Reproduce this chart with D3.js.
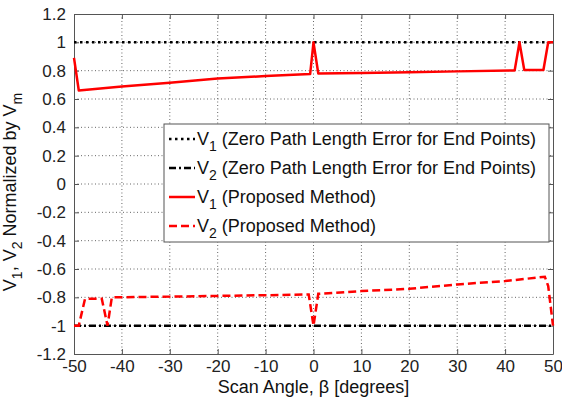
<!DOCTYPE html>
<html>
<head>
<meta charset="utf-8">
<script src="https://cdn.jsdelivr.net/npm/d3@7"></script>
<style>
  body { margin: 0; background: #fff; }
  svg { font-family: "Liberation Sans", Arial, sans-serif; }
</style>
</head>
<body>
<svg id="chart" width="562" height="397"></svg>
<script>
// tick values
var xTicks = [-50, -40, -30, -20, -10, 0, 10, 20, 30, 40, 50];
var yTicks = [-1.2, -1, -0.8, -0.6, -0.4, -0.2, 0, 0.2, 0.4, 0.6, 0.8, 1, 1.2];

// reference lines (zero path length error for end points)
var refAngles = [-50, 50];
var refV1 = [1, 1];
var refV2 = [-1, -1];

// proposed method, V1
var v1Angles = [-50, -49, -40, -30, -20, -10, -0.7, 0, 1, 10, 20, 30, 42, 43, 44, 48, 49, 50];
var v1Values = [0.89, 0.66, 0.688, 0.715, 0.745, 0.762, 0.776, 1, 0.78, 0.784, 0.788, 0.795, 0.802, 1, 0.805, 0.805, 1, 1];

// proposed method, V2
var v2Angles = [-50, -49, -47.7, -44.2, -43, -42.1, -30, -20, -10, -1, 0, 1, 10, 20, 30, 40, 48.3, 49, 50];
var v2Values = [-1, -1, -0.81, -0.81, -1, -0.8, -0.795, -0.79, -0.785, -0.78, -1, -0.775, -0.756, -0.74, -0.709, -0.685, -0.655, -0.72, -1];

var legendItems = [
    { name: "1", label: " (Zero Path Length Error for End Points)", color: "#000", dash: "2.5,3.5" },
    { name: "2", label: " (Zero Path Length Error for End Points)", color: "#000", dash: "7,3,2,3" },
    { name: "1", label: " (Proposed Method)", color: "#ff0000", dash: null },
    { name: "2", label: " (Proposed Method)", color: "#ff0000", dash: "8,4" }
];

var margin = { left: 74, right: 9, top: 14, bottom: 43 };
var width = 562 - margin.left - margin.right;
var height = 397 - margin.top - margin.bottom;

var svg = d3.select("#chart");
var g = svg.append("g").attr("transform", "translate(" + margin.left + "," + margin.top + ")");

var x = d3.scaleLinear().domain([-50, 50]).range([0, width]);
var y = d3.scaleLinear().domain([-1.2, 1.2]).range([height, 0]);

// grid
g.selectAll(".gx").data(xTicks.slice(1, -1)).enter().append("line")
    .attr("x1", function (d) { return x(d); }).attr("x2", function (d) { return x(d); })
    .attr("y1", 0).attr("y2", height)
    .attr("stroke", "#666").attr("stroke-dasharray", "1,2.5");
g.selectAll(".gy").data(yTicks.slice(1, -1)).enter().append("line")
    .attr("y1", function (d) { return y(d); }).attr("y2", function (d) { return y(d); })
    .attr("x1", 0).attr("x2", width)
    .attr("stroke", "#666").attr("stroke-dasharray", "1,2.5");

// axes
var fmt = function (d) { return String(d); };
var xAxis = g.append("g").attr("transform", "translate(0," + height + ")")
    .call(d3.axisBottom(x).tickValues(xTicks).tickFormat(fmt).tickSizeInner(-5).tickSizeOuter(0).tickPadding(6));
var xAxisTop = g.append("g")
    .call(d3.axisTop(x).tickValues(xTicks).tickFormat("").tickSizeInner(-5).tickSizeOuter(0));
var yAxis = g.append("g")
    .call(d3.axisLeft(y).tickValues(yTicks).tickFormat(fmt).tickSizeInner(-5).tickSizeOuter(0).tickPadding(8));
var yAxisRight = g.append("g").attr("transform", "translate(" + width + ",0)")
    .call(d3.axisRight(y).tickValues(yTicks).tickFormat("").tickSizeInner(-5).tickSizeOuter(0));

[xAxis, xAxisTop, yAxis, yAxisRight].forEach(function (a) {
    a.select(".domain").attr("stroke", "#555");
    a.selectAll(".tick line").attr("stroke", "#555");
    a.selectAll("text").attr("font-size", 17).attr("fill", "#222").style("font-family", "'Liberation Sans', Arial, sans-serif");
});

// lines
var line = d3.line()
    .x(function (d) { return x(d[0]); })
    .y(function (d) { return y(d[1]); });

function pairs(xs, ys) { return xs.map(function (v, i) { return [v, ys[i]]; }); }

g.append("path").datum(pairs(refAngles, refV1)).attr("d", line)
    .attr("fill", "none").attr("stroke", "#000").attr("stroke-width", 2.5).attr("stroke-dasharray", "2.5,3.5");
g.append("path").datum(pairs(refAngles, refV2)).attr("d", line)
    .attr("fill", "none").attr("stroke", "#000").attr("stroke-width", 2.5).attr("stroke-dasharray", "7,3,2,3");
g.append("path").datum(pairs(v1Angles, v1Values)).attr("d", line)
    .attr("fill", "none").attr("stroke", "#ff0000").attr("stroke-width", 2.5).attr("stroke-linejoin", "round");
g.append("path").datum(pairs(v2Angles, v2Values)).attr("d", line)
    .attr("fill", "none").attr("stroke", "#ff0000").attr("stroke-width", 2.5).attr("stroke-dasharray", "8,4");

// legend
var legend = svg.append("g").attr("transform", "translate(164,124)");
legend.append("rect").attr("width", 385).attr("height", 118)
    .attr("fill", "#fff").attr("stroke", "#555");
var rows = legend.selectAll(".row").data(legendItems).enter().append("g")
    .attr("transform", function (d, i) { return "translate(0," + (15 + i * 29) + ")"; });
rows.append("line").attr("x1", 5).attr("x2", 31).attr("y1", 0).attr("y2", 0)
    .attr("stroke", function (d) { return d.color; }).attr("stroke-width", 2.5)
    .attr("stroke-dasharray", function (d) { return d.dash; });
var rt = rows.append("text").attr("x", 33).attr("y", 6).attr("font-size", 18).attr("fill", "#111");
rt.append("tspan").text("V");
rt.append("tspan").attr("dy", 6).attr("font-size", 14).text(function (d) { return d.name; });
rt.append("tspan").attr("dy", -6).text(function (d) { return d.label; });

// axis labels
svg.append("text").attr("x", margin.left + width / 2).attr("y", 393)
    .attr("text-anchor", "middle").attr("font-size", 18).attr("fill", "#111")
    .text("Scan Angle, \u03b2 [degrees]");

var yl = svg.append("text").attr("transform", "translate(16,192) rotate(-90)")
    .attr("text-anchor", "middle").attr("font-size", 18).attr("fill", "#111");
yl.append("tspan").text("V");
yl.append("tspan").attr("dy", 6).attr("font-size", 14).text("1");
yl.append("tspan").attr("dy", -6).text(", V");
yl.append("tspan").attr("dy", 6).attr("font-size", 14).text("2");
yl.append("tspan").attr("dy", -6).text(" Normalized by V");
yl.append("tspan").attr("dy", 6).attr("font-size", 14).text("m");
</script>
</body>
</html>
